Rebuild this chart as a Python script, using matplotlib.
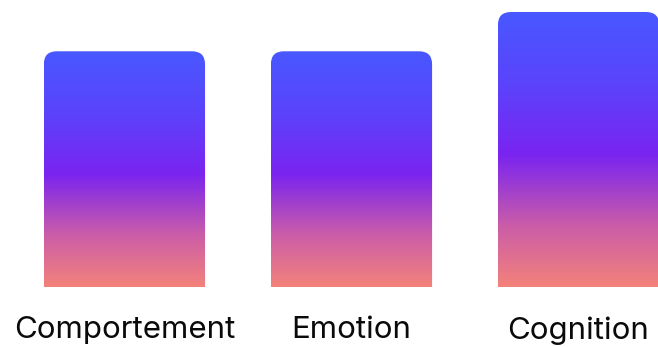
import numpy as np
import matplotlib
matplotlib.use("Agg")
import matplotlib.pyplot as plt
from matplotlib.colors import LinearSegmentedColormap
from matplotlib.patches import FancyBboxPatch

categories = ["Comportement", "Emotion", "Cognition"]
values = [6, 6, 7]

grad_colors = [(0.0, "#F3827A"), (0.22, "#CB5DA8"), (0.48, "#7A24F0"),
               (0.75, "#5A44FC"), (1.0, "#4858FF")]
cmap = LinearSegmentedColormap.from_list("g", grad_colors)

W, H, DPI = 658, 347, 100
fig = plt.figure(figsize=(W / DPI, H / DPI), dpi=DPI)
bottom_px = 60
ax = fig.add_axes([0, bottom_px / H, 1, (H - bottom_px) / H])
x = np.arange(len(categories))
ymax = max(values) * 287 / 275
ax.set_xlim(-0.548, 2.350)
ax.set_ylim(0, ymax)
bars = ax.bar(x, values, width=0.71, color="none", edgecolor="none")

# pixel scales for round corners
xunit = W / (2.350 + 0.548)
yunit = (H - bottom_px) / ymax
r_px = 13
rx = r_px / xunit
aspect = xunit / yunit

grad = np.linspace(0, 1, 256).reshape(-1, 1)
for b in bars:
    bx, bw, bh = b.get_x(), b.get_width(), b.get_height()
    pad = 2 * r_px / yunit
    patch = FancyBboxPatch((bx, -pad), bw, bh + pad,
                           boxstyle=f"round,pad=0,rounding_size={rx}",
                           mutation_aspect=aspect,
                           facecolor="none", edgecolor="none")
    ax.add_patch(patch)
    im = ax.imshow(grad, cmap=cmap, origin="lower", aspect="auto",
                   extent=(bx, bx + bw, 0, bh), interpolation="bilinear")
    im.set_clip_path(patch)

ax.set_xlim(-0.548, 2.350)
ax.set_ylim(0, ymax)
for s in ax.spines.values():
    s.set_visible(False)
ax.set_yticks([])
ax.set_xticks(x)
ax.set_xticklabels(categories, fontsize=22.5, family="Inter", color="#0a0a0a")
ax.tick_params(axis="x", length=0, pad=21)

fig.savefig("out.png", dpi=DPI)
